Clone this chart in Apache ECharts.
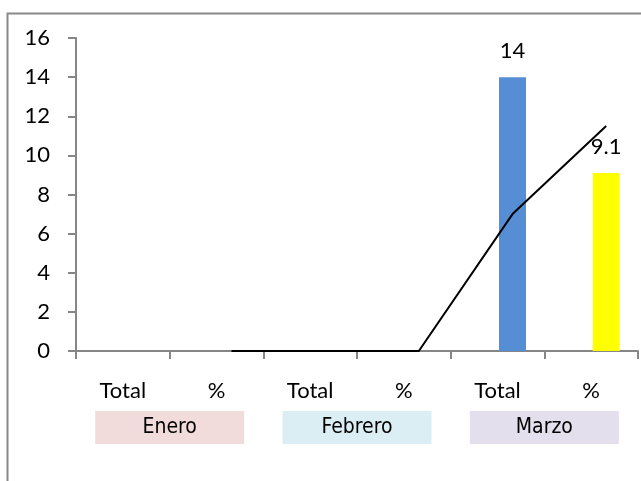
<!DOCTYPE html>
<html>
<head>
<meta charset="utf-8">
<script src="https://cdn.jsdelivr.net/npm/echarts@6/dist/echarts.min.js"></script>
<style>
  html, body { margin: 0; padding: 0; background: #fff; }
  #chart { width: 641px; height: 481px; }
</style>
</head>
<body>
<div id="chart"></div>
<script>
// Monthly figures: each month shows a Total and a % column
const categories = ['Total', '%', 'Total', '%', 'Total', '%'];
const months = ['Enero', 'Febrero', 'Marzo'];
const monthColors = ['#f2dcdb', '#dbeef4', '#e4dfec'];
const values = [0, 0, 0, 0, 14, 9.1];
const barColors = ['#558ed5', '#ffff00', '#558ed5', '#ffff00', '#558ed5', '#ffff00'];
const trend = [null, 0, 0, 0, 7, 11.5];
const yTicks = { min: 0, max: 16, interval: 2 };

const axisGray = '#868686';
const textFont = 'Lato';

const chart = echarts.init(document.getElementById('chart'), null, { renderer: 'canvas' });

const plotLeft = 76, plotTop = 38, plotWidth = 562, plotHeight = 313;
const step = plotWidth / categories.length;
const shift = 15; // data marks sit slightly right of the category centres

const richMonths = {};
months.forEach((m, i) => {
  richMonths['m' + i] = {
    backgroundColor: monthColors[i],
    width: 149,
    height: 33,
    lineHeight: 33,
    align: 'center',
    fontSize: 21,
    fontFamily: '"DejaVu Sans Condensed", "Liberation Sans", sans-serif',
    color: '#000'
  };
});

chart.setOption({
  animation: false,
  backgroundColor: '#fff',
  grid: [
    { left: plotLeft, top: plotTop, width: plotWidth, height: plotHeight },
    // marks grid: spans from the first to the last category point, shifted right
    {
      left: plotLeft + step / 2 + shift,
      top: plotTop,
      width: step * (categories.length - 1),
      height: plotHeight
    }
  ],
  xAxis: [
    {
      gridIndex: 0,
      type: 'category',
      data: categories,
      boundaryGap: true,
      axisLine: { show: true, lineStyle: { color: axisGray, width: 2 } },
      axisTick: { show: true, length: 8, lineStyle: { color: axisGray, width: 2 } },
      axisLabel: { color: '#000', fontSize: 22, fontFamily: textFont, margin: 29, interval: 0 }
    },
    {
      gridIndex: 0,
      type: 'category',
      data: months,
      position: 'bottom',
      axisLine: { show: false },
      axisTick: { show: false },
      axisLabel: {
        interval: 0,
        margin: 60,
        formatter: (v, i) => '{m' + i + '|' + v + '}',
        rich: richMonths
      }
    },
    {
      gridIndex: 1,
      type: 'category',
      data: categories,
      boundaryGap: false,
      show: false
    }
  ],
  yAxis: [
    {
      gridIndex: 0,
      type: 'value',
      min: yTicks.min,
      max: yTicks.max,
      interval: yTicks.interval,
      splitLine: { show: false },
      axisLine: { show: true, lineStyle: { color: axisGray, width: 2 } },
      axisTick: { show: true, length: 8, lineStyle: { color: axisGray, width: 2 } },
      axisLabel: { color: '#000', fontSize: 22, fontFamily: textFont, margin: 26 }
    },
    {
      gridIndex: 1,
      type: 'value',
      min: yTicks.min,
      max: yTicks.max,
      interval: yTicks.interval,
      show: false
    }
  ],
  series: [
    {
      type: 'bar',
      xAxisIndex: 2,
      yAxisIndex: 1,
      barWidth: 27,
      clip: false,
      data: values.map((v, i) => ({ value: v, itemStyle: { color: barColors[i] } })),
      label: {
        show: true,
        position: 'top',
        distance: 15,
        color: '#000',
        fontSize: 22,
        fontFamily: textFont,
        formatter: p => (p.value > 0 ? String(p.value) : '')
      }
    },
    {
      type: 'line',
      xAxisIndex: 2,
      yAxisIndex: 1,
      data: trend,
      symbol: 'none',
      clip: false,
      lineStyle: { color: '#000', width: 2 },
      z: 3
    }
  ],
  graphic: [
    {
      type: 'polyline',
      shape: { points: [[7.5, 481], [7.5, 13.5], [641, 13.5]] },
      style: { stroke: '#898989', lineWidth: 2, fill: null },
      silent: true
    }
  ]
});
</script>
</body>
</html>
